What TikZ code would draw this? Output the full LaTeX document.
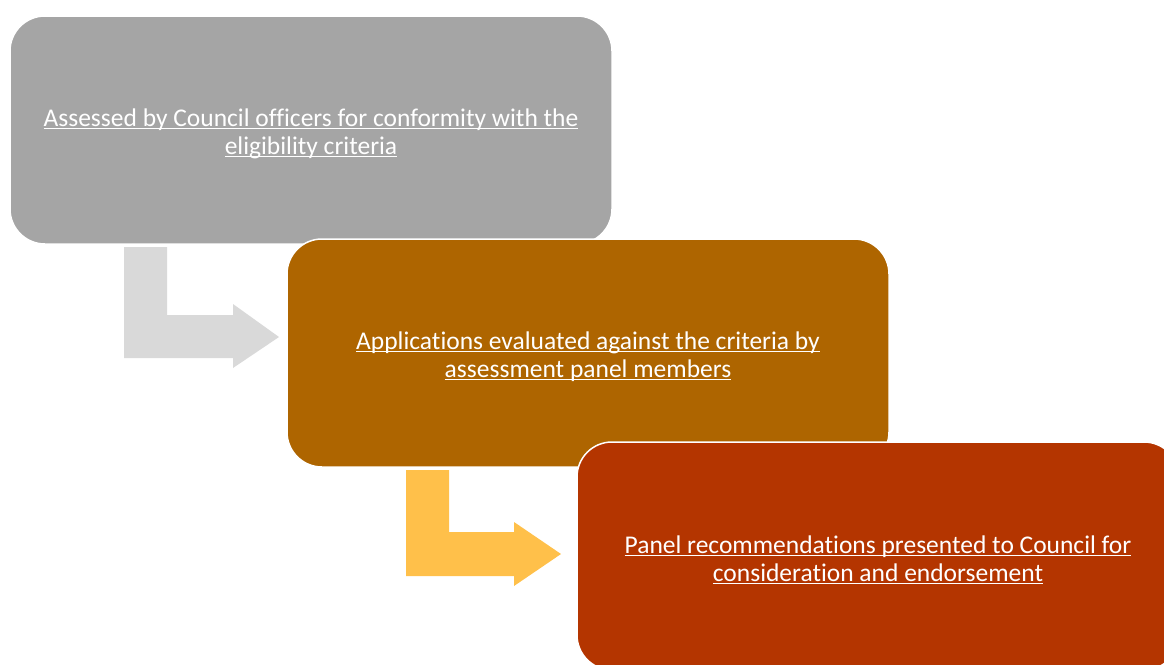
\documentclass[tikz,border=0pt]{standalone}
\usepackage{fontspec}
\setmainfont{Carlito}[Ligatures={NoCommon}]
\definecolor{boxgray}{HTML}{A5A5A5}
\definecolor{boxbrown}{HTML}{AE6500}
\definecolor{boxred}{HTML}{B43500}
\definecolor{arrowgray}{HTML}{D9D9D9}
\definecolor{arrowgold}{HTML}{FFC04A}
\newcommand\uline[1]{\setbox0\hbox{#1}\rlap{\rule[-2.6pt]{\wd0}{1.1pt}}\box0}
\newcommand\toplift{\rule{0pt}{25pt}}
\tikzset{
  stage/.style={rectangle, rounded corners=35pt, minimum width=602pt, minimum height=228pt,
    draw=white, line width=1.5pt, text=white, align=center, inner sep=0pt,
    font=\fontsize{25.5}{28}\selectfont},
}
\begin{document}
\begin{tikzpicture}[x=1pt,y=-1pt]
\useasboundingbox (0,0) rectangle (1164,664);
\clip (0,0) rectangle (1164,664);

\node[stage, fill=boxgray] (assess) at (311,130) {\toplift\uline{Assessed by Council officers for conformity with the}\\\uline{eligibility criteria}};

\begin{scope}[fill=arrowgray]
\fill (124,247) -- (167,247) -- (167,315) -- (233,315) -- (233,304) -- (279,337) -- (233,368) -- (233,358) -- (124,358) -- cycle;
\end{scope}

\node[stage, fill=boxbrown] (evaluate) at (588,353) {\toplift\uline{Applications evaluated against the criteria by}\\\uline{assessment panel members}};

\begin{scope}[fill=arrowgold]
\fill (406,470) -- (449,470) -- (449,532) -- (514,532) -- (514,522) -- (561,554) -- (514,586) -- (514,576) -- (406,576) -- cycle;
\end{scope}

\node[stage, fill=boxred] (present) at (878,556) {\toplift\uline{Panel recommendations presented to Council for}\\\uline{consideration and endorsement}};

\end{tikzpicture}
\end{document}
